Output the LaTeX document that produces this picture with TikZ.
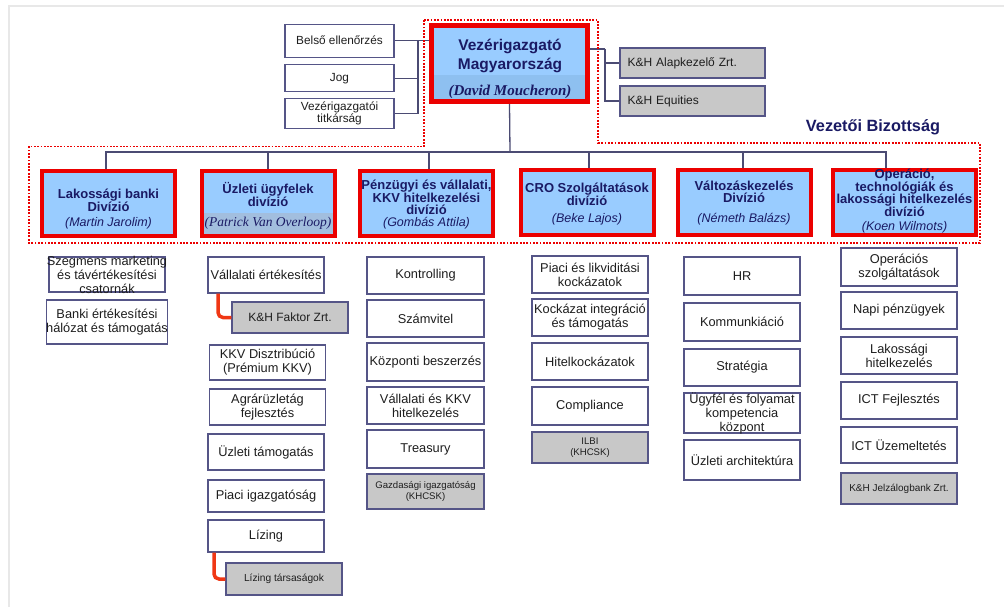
\documentclass[tikz,border=0pt]{standalone}
\usepackage{fontspec}
\setmainfont{Liberation Sans}
\newfontfamily\timesf{Liberation Serif}
\usetikzlibrary{backgrounds}
\newcommand\nmf{\fontsize{12.5}{13}\selectfont\mdseries\itshape}
\definecolor{navy}{RGB}{26,26,100}
\definecolor{bord}{RGB}{85,85,135}
\definecolor{divblue}{RGB}{153,204,255}
\definecolor{ceoband}{RGB}{142,192,240}
\definecolor{patband}{RGB}{162,190,222}
\definecolor{redb}{RGB}{235,0,0}
\definecolor{grayf}{RGB}{200,200,200}
\definecolor{connc}{RGB}{75,75,115}
\definecolor{arrowred}{RGB}{240,55,20}
\definecolor{pageline}{RGB}{232,232,232}
\definecolor{txt}{RGB}{30,30,30}
\begin{document}
\begin{tikzpicture}[x=1pt,y=-1pt,
  sub/.style={draw=bord, line width=1.3pt, fill=white, inner sep=0pt, align=center, text=txt,
    font=\fontsize{12.8}{14}\selectfont, minimum width=116pt},
  co/.style={sub, fill=grayf},
  tl/.style={sub, minimum width=109pt, font=\fontsize{11.8}{12.5}\selectfont},
  rco/.style={co, minimum width=145pt, minimum height=30pt, text width=130pt, align=left,
    font=\fontsize{12}{13}\selectfont},
  divb/.style={draw=redb, line width=4pt, fill=divblue, inner sep=0pt,
    minimum width=133pt, minimum height=65pt},
  dtext/.style={align=center, text=navy, inner sep=0pt, font=\fontsize{13}{12.5}\selectfont\bfseries},
  conn/.style={draw=connc, line width=1.3pt},
  elbow/.style={draw=arrowred, line width=3.5pt, rounded corners=5pt},
  rdot/.style={draw=redb, line width=1.8pt, dash pattern=on 1.8pt off 1.5pt}]
\useasboundingbox (0,0) rectangle (1004,607);

% ---- top level ----
\node[draw=redb, line width=5pt, fill=divblue, minimum width=156pt, minimum height=76pt, inner sep=0pt,
  path picture={\fill[ceoband] (path picture bounding box.south west) rectangle ([yshift=26pt]path picture bounding box.south east);}]
  (ceo) at (509.5,63.5) {};
\node[align=center, text=navy, inner sep=0pt, font=\fontsize{15.5}{19.5}\selectfont\bfseries] (ceotxt) at (510,68.5)
  {Vezérigazgató\\Magyarország\\[6pt]{\timesf\bfseries\itshape\fontsize{15}{15}\selectfont (David Moucheron)}};

\node[tl, minimum height=33pt] (belso) at (339.5,40.7) {Belső ellenőrzés};
\node[tl, minimum height=27pt] (jog) at (339.5,78.3) {Jog};
\node[tl, minimum height=30pt] (titk) at (339.5,113.3) {Vezérigazgatói\\titkárság};

\node[rco] (alap) at (692.5,63) {K\&H Alapkezelő Zrt.};
\node[rco] (equ) at (692.5,101) {K\&H Equities};

\node[text=navy, font=\fontsize{16.3}{17}\selectfont\bfseries, inner sep=0pt] (vb) at (873,127) {Vezetői Bizottság};

% ---- divisions ----
\node[divb] (lak) at (108.5,203.5) {};
\node[dtext] (laktxt) at (108.5,209.5) {Lakossági banki\\Divízió\\[3pt]{\nmf (Martin Jarolim)}};
\node[divb, path picture={\fill[patband] (path picture bounding box.south west) rectangle ([yshift=23pt]path picture bounding box.south east);}]
  (uzl) at (268,203.5) {};
\node[dtext] (uzltxt) at (268,206) {Üzleti ügyfelek\\divízió\\[8pt]{\timesf\mdseries\itshape\fontsize{13.5}{14}\selectfont (Patrick Van Overloop)}};
\node[divb] (pen) at (426.5,203.5) {};
\node[dtext] (pentxt) at (426.5,204.5) {Pénzügyi és vállalati,\\KKV hitelkezelési\\divízió\\[-1pt]{\nmf (Gombás Attila)}};
\node[divb] (cro) at (587,202.5) {};
\node[dtext] (crotxt) at (587,204.5) {CRO Szolgáltatások\\divízió\\[5pt]{\nmf (Beke Lajos)}};
\node[divb] (valt) at (744,202.5) {};
\node[dtext] (valttxt) at (744,203) {Változáskezelés\\Divízió\\[7pt]{\nmf (Németh Balázs)}};
\node[divb, minimum width=143pt] (oper) at (904.5,202.5) {};
\node[dtext] (opertxt) at (904.5,201.5) {Operáció,\\technológiák és\\lakossági hitelkezelés\\divízió\\[2pt]{\nmf (Koen Wilmots)}};

% ---- column 1 ----
\node[sub, minimum height=35pt] (szeg) at (107,274.5) {};
\node[align=center, text=txt, inner sep=0pt, font=\fontsize{12.8}{14}\selectfont] (szegtxt) at (107,274.5)
  {Szegmens marketing\\és távértékesítési\\csatornák};
\node[sub, minimum height=44pt] (banki) at (107,322) {Banki értékesítési\\hálózat és támogatás};

% ---- column 2 ----
\node[sub, minimum height=36pt] (vall) at (266,275) {Vállalati értékesítés};
\node[co, minimum height=31pt, font=\fontsize{12}{13}\selectfont] (faktor) at (290,317.5) {K\&H Faktor Zrt.};
\node[sub, minimum height=35pt] (kkv) at (267.5,362.5) {KKV Disztribúció\\(Prémium KKV)};
\node[sub, minimum height=36pt] (agrar) at (267.5,407) {Agrárüzletág\\fejlesztés};
\node[sub, minimum height=36pt] (uztam) at (266,452) {Üzleti támogatás};
\node[sub, minimum height=32pt] (piacig) at (266,496) {Piaci igazgatóság};
\node[sub, minimum height=32pt] (lizing) at (266,536) {Lízing};
\node[co, minimum height=32pt, font=\fontsize{10.2}{11}\selectfont] (liztars) at (284,579) {Lízing társaságok};

% ---- column 3 ----
\node[sub, minimum width=117pt, minimum height=37pt] (kontr) at (425.5,275.5) {Kontrolling};
\node[sub, minimum width=117pt, minimum height=37pt] (szamv) at (425.5,318.5) {Számvitel};
\node[sub, minimum width=117pt, minimum height=38pt] (kozp) at (425.5,362) {Központi beszerzés};
\node[sub, minimum width=117pt, minimum height=37pt] (vkkv) at (425.5,405.5) {Vállalati és KKV\\hitelkezelés};
\node[sub, minimum width=117pt, minimum height=38pt] (treas) at (425.5,449) {Treasury};
\node[co, minimum width=117pt, minimum height=35pt, font=\fontsize{9.6}{11}\selectfont] (gazd) at (425.5,491.5) {Gazdasági igazgatóság\\(KHCSK)};

% ---- column 4 ----
\node[sub, minimum height=37pt] (piaci) at (590,274.5) {Piaci és likviditási\\kockázatok};
\node[sub, minimum height=37pt] (kockint) at (590,317.5) {Kockázat integráció\\és támogatás};
\node[sub, minimum height=37pt] (hitelk) at (590,361.5) {Hitelkockázatok};
\node[sub, minimum height=38pt] (compl) at (590,406) {Compliance};
\node[co, minimum height=31pt, font=\fontsize{9.6}{11}\selectfont] (ilbi) at (590,447.5) {ILBI\\(KHCSK)};

% ---- column 5 ----
\node[sub, minimum height=38pt] (hr) at (742,276) {HR};
\node[sub, minimum height=38pt] (komm) at (742,322) {Kommunkiáció};
\node[sub, minimum height=37pt] (strat) at (742,367.5) {Stratégia};
\node[sub, minimum height=40pt] (ugyf) at (742,413) {};
\node[align=center, text=txt, inner sep=0pt, font=\fontsize{12.8}{14}\selectfont] (ugyftxt) at (742,413)
  {Ügyfél és folyamat\\kompetencia\\központ};
\node[sub, minimum height=40pt] (uzarch) at (742,460) {Üzleti architektúra};

% ---- column 6 ----
\node[sub, minimum height=38pt] (opszolg) at (899,267) {Operációs\\szolgáltatások};
\node[sub, minimum height=37pt] (napi) at (899,310.5) {Napi pénzügyek};
\node[sub, minimum height=37pt] (lakhit) at (899,355.5) {Lakossági\\hitelkezelés};
\node[sub, minimum height=37pt] (ictf) at (899,400.5) {ICT Fejlesztés};
\node[sub, minimum height=36pt] (ictu) at (899,445) {ICT Üzemeltetés};
\node[co, minimum height=31pt, font=\fontsize{10}{11}\selectfont] (jelz) at (899,488.5) {K\&H Jelzálogbank Zrt.};

% ---- connectors (behind) ----
\begin{pgfonlayer}{background}
\fill[white] (0,0) rectangle (1004,607);
\draw[pageline, line width=2pt] (9,607) -- (9,6) -- (1004,6);
\coordinate (ltrunk) at (418,40.7);
\coordinate (rtrunk) at (605,49);
\coordinate (bus) at (510,152);
\draw[conn] (belso.east) -- (ceo.west |- belso.east);
\draw[conn] (jog.east) -| (ltrunk);
\draw[conn] (titk.east) -| (ltrunk);
\draw[conn] ([yshift=14.5pt]ceo.east) -- (rtrunk);
\draw[conn] (rtrunk) |- (alap.west);
\draw[conn] (rtrunk) |- (equ.west);
\draw[conn] (ceo.south) -- (bus);
\draw[conn] (bus) -| ([xshift=-2.5pt]lak.north);
\draw[conn] (bus) -| (uzl.north);
\draw[conn] (bus) -| ([xshift=2.5pt]pen.north);
\draw[conn] (bus) -| ([xshift=2pt]cro.north);
\draw[conn] (bus) -| ([xshift=-1pt]valt.north);
\draw[conn] (bus) -| ([xshift=-18.5pt]oper.north);
\end{pgfonlayer}

% ---- red elbows ----
\draw[elbow] ([xshift=-48pt]vall.south) |- (faktor.west);
\draw[elbow] ([xshift=-52pt]lizing.south) |- (liztars.west);

% ---- committee outline ----
\draw[rdot] (424,20) -- (598,20) -- (598,143) -- (980,143) -- (980,243) -- (29,243) -- (29,146.5) -- (424,146.5) -- cycle;
\end{tikzpicture}
\end{document}
